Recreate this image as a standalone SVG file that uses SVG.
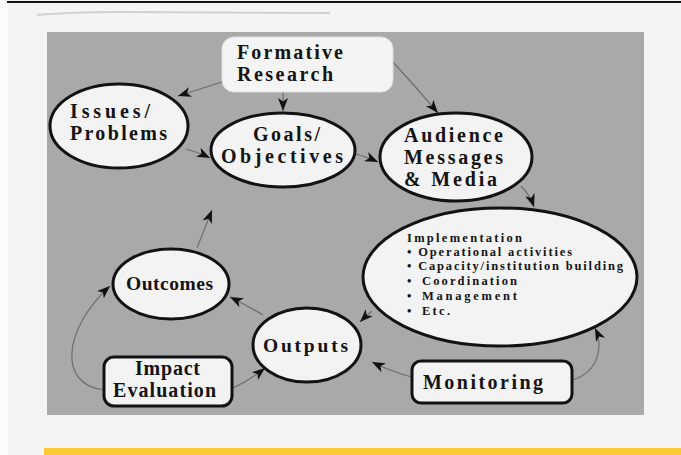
<svg xmlns="http://www.w3.org/2000/svg" width="681" height="455" viewBox="0 0 681 455">
  <defs>
    <marker id="arr" markerUnits="userSpaceOnUse" markerWidth="14" markerHeight="11" refX="13" refY="5" orient="auto">
      <path d="M0,0 L13,5 L0,10 L3.5,5 Z" fill="#111"/>
    </marker>
    <style>
      .node { fill: #f3f3f3; stroke: #121212; stroke-width: 3; }
      .soft { fill: #f4f4f4; stroke: #e0e0e0; stroke-width: 1; }
      .lbl { font-family: "Liberation Serif", "Times New Roman", serif; font-weight: bold; font-size: 20px; fill: #141414; }
      .mid { font-size: 19.5px; }
      .sm { font-size: 12.5px; }
      .conn { fill: none; stroke: #6e6e6e; stroke-width: 1.2; marker-end: url(#arr); }
    </style>
  </defs>

  <rect x="0" y="0" width="681" height="455" fill="#f4f4f4"/>
  <rect x="0" y="0" width="8" height="455" fill="#fbfbfb"/>
  <line x1="7" y1="2" x2="681" y2="2" stroke="#151515" stroke-width="2"/>
  <path d="M37,15 Q70,12 120,12 L330,13" fill="none" stroke="#d0d0d0" stroke-width="2"/>
  <rect x="47" y="32" width="597" height="383" fill="#a9a9a9"/>
  <rect x="44" y="448" width="637" height="7" fill="#fcc934"/>

  <g id="connectors">
    <path class="conn" d="M222,82 L178,96"/>
    <path class="conn" d="M283,92 L283,111"/>
    <path class="conn" d="M393,62 Q415,86 438,113"/>
    <path class="conn" d="M186,149 Q198,152 210,158"/>
    <path class="conn" d="M356,154 Q367,157 378,162"/>
    <path class="conn" d="M521,186 Q530,195 534,207"/>
    <path class="conn" d="M372,311 Q366,316 360,322"/>
    <path class="conn" d="M263,315 Q246,305 230,297"/>
    <path class="conn" d="M197,248 L212,210"/>
    <path class="conn" d="M105,390 C58,386 62,330 110,286"/>
    <path class="conn" d="M233,388 Q250,380 265,368"/>
    <path class="conn" d="M412,377 Q392,372 372,362"/>
    <path class="conn" d="M572,380 C600,372 603,345 595,328"/>
  </g>

  <g id="formative">
    <rect class="soft" x="222" y="37" width="171" height="55" rx="12"/>
    <text class="lbl" x="237" y="59" textLength="106" lengthAdjust="spacing">Formative</text>
    <text class="lbl" x="237" y="81" textLength="96" lengthAdjust="spacing">Research</text>
  </g>

  <g id="issues">
    <ellipse class="node" cx="119" cy="126" rx="69" ry="42"/>
    <text class="lbl" x="70" y="118" textLength="80" lengthAdjust="spacing">Issues/</text>
    <text class="lbl" x="70" y="140" textLength="97" lengthAdjust="spacing">Problems</text>
  </g>

  <g id="goals">
    <ellipse class="node" cx="283" cy="150" rx="72" ry="37"/>
    <text class="lbl" x="253" y="141" textLength="67" lengthAdjust="spacing">Goals/</text>
    <text class="lbl" x="221" y="163" textLength="122" lengthAdjust="spacing">Objectives</text>
  </g>

  <g id="audience">
    <ellipse class="node" cx="456" cy="157" rx="76" ry="44"/>
    <text class="lbl" x="404" y="142" textLength="99" lengthAdjust="spacing">Audience</text>
    <text class="lbl" x="404" y="164" textLength="99" lengthAdjust="spacing">Messages</text>
    <text class="lbl" x="404" y="186" textLength="93" lengthAdjust="spacing">&amp; Media</text>
  </g>

  <g id="implementation">
    <ellipse class="node" cx="500" cy="277" rx="137" ry="69"/>
    <text class="lbl sm" x="407" y="242" textLength="115" lengthAdjust="spacing">Implementation</text>
    <text class="lbl sm" x="407" y="256" textLength="165" lengthAdjust="spacing">• Operational activities</text>
    <text class="lbl sm" x="407" y="270" textLength="216" lengthAdjust="spacing">• Capacity/institution building</text>
    <text class="lbl sm" x="407" y="285">•</text>
    <text class="lbl sm" x="422" y="285" textLength="95" lengthAdjust="spacing">Coordination</text>
    <text class="lbl sm" x="407" y="300">•</text>
    <text class="lbl sm" x="422" y="300" textLength="95" lengthAdjust="spacing">Management</text>
    <text class="lbl sm" x="407" y="315">•</text>
    <text class="lbl sm" x="422" y="315" textLength="28" lengthAdjust="spacing">Etc.</text>
  </g>

  <g id="outcomes">
    <ellipse class="node" cx="171" cy="284" rx="58" ry="35"/>
    <text class="lbl mid" x="126" y="290" textLength="87" lengthAdjust="spacing">Outcomes</text>
  </g>

  <g id="outputs">
    <ellipse class="node" cx="307" cy="345" rx="54" ry="37"/>
    <text class="lbl mid" x="263" y="352" textLength="85" lengthAdjust="spacing">Outputs</text>
  </g>

  <g id="impact">
    <rect class="node" x="104" y="357" width="128" height="49" rx="10"/>
    <text class="lbl" x="135" y="375" textLength="65" lengthAdjust="spacing">Impact</text>
    <text class="lbl" x="113" y="397" textLength="103" lengthAdjust="spacing">Evaluation</text>
  </g>

  <g id="monitoring">
    <rect class="node" x="412" y="361" width="160" height="42" rx="9"/>
    <text class="lbl" x="423" y="389" textLength="120" lengthAdjust="spacing">Monitoring</text>
  </g>
</svg>
